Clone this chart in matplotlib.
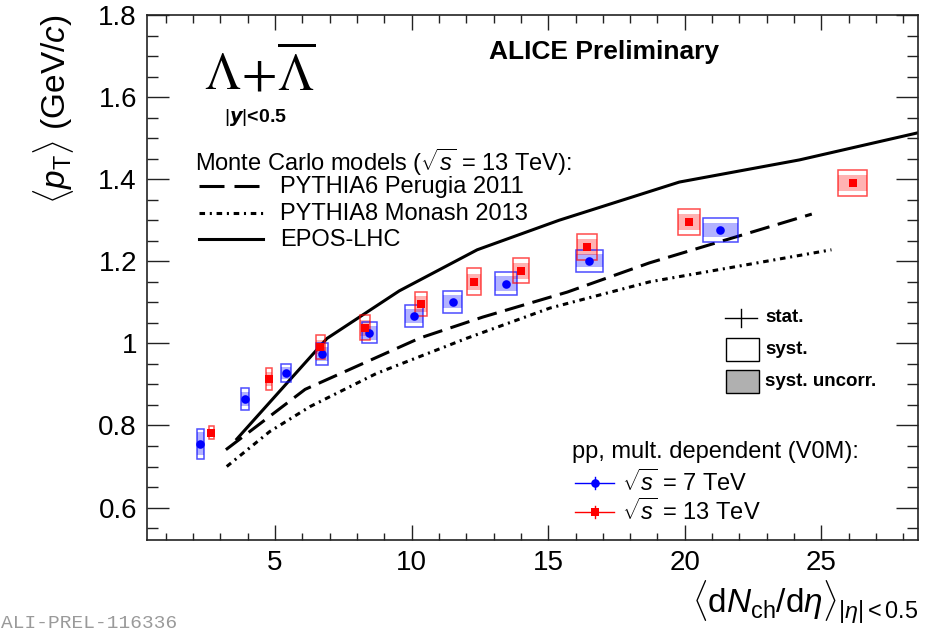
import matplotlib
matplotlib.use("Agg")
import matplotlib.pyplot as plt
from matplotlib.patches import Rectangle
from matplotlib.ticker import MultipleLocator, FixedLocator, FixedFormatter

plt.rcParams["font.family"] = ["Liberation Sans", "DejaVu Sans"]
plt.rcParams["mathtext.fontset"] = "custom"
plt.rcParams["mathtext.rm"] = "Liberation Sans"
plt.rcParams["mathtext.it"] = "Liberation Sans:italic"
plt.rcParams["mathtext.bf"] = "Liberation Sans:bold"
plt.rcParams["lines.scale_dashes"] = False

# ---- pp 7 TeV, multiplicity dependent (V0M) ----
nch_7 = [2.26, 3.90, 5.40, 6.72, 8.45, 10.08, 11.51, 13.46, 16.51, 21.30]
nch_syst_7 = [0.134, 0.146, 0.18, 0.21, 0.27, 0.32, 0.35, 0.40, 0.50, 0.65]
mpt_7 = [0.755, 0.865, 0.928, 0.974, 1.026, 1.067, 1.101, 1.145, 1.201, 1.276]
stat_7 = [0.006, 0.005, 0.005, 0.004, 0.004, 0.004, 0.004, 0.004, 0.004, 0.004]
syst_7 = [0.0365, 0.027, 0.022, 0.026, 0.026, 0.027, 0.026, 0.028, 0.026, 0.029]
uncorr_7 = [0.028, 0.017, 0.014, 0.017, 0.017, 0.017, 0.016, 0.018, 0.016, 0.018]

# ---- pp 13 TeV, multiplicity dependent (V0M) ----
nch_13 = [2.66, 4.78, 6.65, 8.29, 10.34, 12.28, 14.00, 16.42, 20.15, 26.15]
nch_syst_13 = [0.09, 0.10, 0.165, 0.17, 0.21, 0.25, 0.29, 0.35, 0.415, 0.525]
mpt_13 = [0.782, 0.913, 0.991, 1.038, 1.096, 1.150, 1.177, 1.235, 1.296, 1.391]
stat_13 = [0.005, 0.004, 0.004, 0.004, 0.004, 0.004, 0.004, 0.004, 0.004, 0.004]
syst_13 = [0.016, 0.027, 0.029, 0.030, 0.030, 0.0325, 0.031, 0.032, 0.0325, 0.032]
uncorr_13 = [0.010, 0.017, 0.018, 0.019, 0.019, 0.020, 0.019, 0.020, 0.020, 0.020]

# ---- Monte Carlo predictions, 13 TeV ----
epos_x = [3.60, 6.90, 9.55, 12.40, 15.40, 19.80, 24.20, 28.60]
epos_y = [0.767, 1.012, 1.128, 1.228, 1.300, 1.393, 1.447, 1.514]
py6_x = [3.20, 6.10, 10.30, 12.60, 15.70, 18.70, 24.65]
py6_y = [0.741, 0.888, 1.013, 1.064, 1.125, 1.196, 1.315]
py8_x = [3.23, 4.80, 6.28, 8.72, 12.00, 15.06, 18.72, 25.37]
py8_y = [0.700, 0.785, 0.846, 0.927, 1.012, 1.086, 1.150, 1.228]

x_ticks = [5, 10, 15, 20, 25]
y_ticks = [0.6, 0.8, 1.0, 1.2, 1.4, 1.6, 1.8]
y_tick_labels = ["0.6", "0.8", "1", "1.2", "1.4", "1.6", "1.8"]

W, H = 936, 634
fig = plt.figure(figsize=(W / 100, H / 100), dpi=100)
AX_L, AX_R, AX_T, AX_B = 146.7, 918.3, 15.0, 540.0
ax = fig.add_axes([AX_L / W, 1 - AX_B / H, (AX_R - AX_L) / W, (AX_B - AX_T) / H])
ax.set_xlim(0.3, 28.55)
ax.set_ylim(0.521, 1.8)


def fx(px):
    return px / W


def fy(py):
    return 1 - py / H


def ax_xy(px, py):
    return (px - AX_L) / (AX_R - AX_L), (AX_B - py) / (AX_B - AX_T)


# model curves
lw_model = 2.2
ax.plot(epos_x, epos_y, color="black", lw=lw_model, solid_joinstyle="miter", zorder=2)
ax.plot(py6_x, py6_y, color="black", lw=lw_model, dashes=(14.4, 6.2),
        dash_capstyle="butt", zorder=2)
ax.plot(py8_x, py8_y, color="black", lw=lw_model, dashes=(4.0, 3.4, 1.5, 3.4),
        dash_capstyle="butt", zorder=2)


def draw_data(x, xs, y, st, sy, uc, color, marker, ms):
    for xi, xsi, yi, syi, uci in zip(x, xs, y, sy, uc):
        ax.add_patch(Rectangle((xi - xsi, yi - uci), 2 * xsi, 2 * uci,
                               facecolor=color, alpha=0.3, edgecolor="none", zorder=3))
        ax.add_patch(Rectangle((xi - xsi, yi - syi), 2 * xsi, 2 * syi,
                               facecolor="none", edgecolor=color, alpha=0.7,
                               lw=1.1, zorder=4))
    ax.errorbar(x, y, yerr=st, fmt=marker, color=color, ms=ms, mew=0,
                elinewidth=1.0, capsize=0, zorder=5)


draw_data(nch_7, nch_syst_7, mpt_7, stat_7, syst_7, uncorr_7, "#0000ff", "o", 6.2)
draw_data(nch_13, nch_syst_13, mpt_13, stat_13, syst_13, uncorr_13, "#ff0000", "s", 5.4)

# axes styling
ax.xaxis.set_major_locator(FixedLocator(x_ticks))
ax.xaxis.set_minor_locator(MultipleLocator(1))
ax.yaxis.set_major_locator(FixedLocator(y_ticks))
ax.yaxis.set_major_formatter(FixedFormatter(y_tick_labels))
ax.yaxis.set_minor_locator(MultipleLocator(0.05))
ax.tick_params(which="both", direction="in", top=True, right=True, color="#222222")
ax.tick_params(axis="x", which="major", length=10.8, width=1.0, labelsize=20, pad=7)
ax.tick_params(axis="x", which="minor", length=5.4, width=1.0)
ax.tick_params(axis="y", which="major", length=15.8, width=1.0, labelsize=20, pad=7)
ax.tick_params(axis="y", which="minor", length=7.9, width=1.0)
for sp in ax.spines.values():
    sp.set_linewidth(1.2)
    sp.set_color("#222222")

# axis titles
fig.text(fx(54), fy(15), r"$\langle p_{\mathrm{T}}\rangle$ (GeV/$c$)", rotation=90,
         ha="center", va="top", fontsize=24)
fig.text(fx(918), fy(626), r"$\langle \mathrm{d}N_{\mathrm{ch}}/\mathrm{d}\eta\rangle_{|\eta|<0.5}$",
         ha="right", va="bottom", fontsize=24)

# headline texts
fig.text(fx(489), fy(52), "ALICE Preliminary", ha="left", va="center",
         fontsize=19, fontweight="bold")
fig.text(fx(260), fy(73), r"$\Lambda\!+\!\overline{\Lambda}$", ha="center", va="center",
         fontsize=37, math_fontfamily="stix")
fig.text(fx(255), fy(118), r"$|\boldsymbol{y}|$<0.5", ha="center", va="center",
         fontsize=14, fontweight="bold")
fig.text(fx(1), fy(632), "ALI-PREL-116336", ha="left", va="bottom", fontsize=14,
         family="Liberation Mono", color="#9a9a9a")

# Monte Carlo legend
fig.text(fx(195), fy(162), r"Monte Carlo models ($\sqrt{s}$ = 13 TeV):",
         ha="left", va="center", fontsize=17)
mc_rows = [("PYTHIA6 Perugia 2011", 186, dict(dashes=(18.0, 7.2))),
           ("PYTHIA8 Monash 2013", 213, dict(dashes=(4.0, 3.4, 1.5, 3.4))),
           ("EPOS-LHC", 239, dict())]
for label, py, style in mc_rows:
    (x0, y0), (x1, _) = ax_xy(199, py), ax_xy(263, py)
    ax.plot([x0, x1], [y0, y0], transform=ax.transAxes, color="black", lw=lw_model,
            dash_capstyle="butt", clip_on=False, **style)
    fig.text(fx(280), fy(py + 1), label, ha="left", va="center", fontsize=17)

# uncertainty legend
(cx0, cy), (cx1, _) = ax_xy(725, 318), ax_xy(757, 318)
ax.plot([cx0, cx1], [cy, cy], transform=ax.transAxes, color="black", lw=1.0, clip_on=False)
(vx, vy0), (_, vy1) = ax_xy(741, 309), ax_xy(741, 327)
ax.plot([vx, vx], [vy0, vy1], transform=ax.transAxes, color="black", lw=1.0, clip_on=False)
fig.text(fx(765), fy(318), "stat.", ha="left", va="center", fontsize=13.5, fontweight="bold")
for py0, py1, fc, label in [(338, 361, "white", "syst."), (370, 393, "#b0b0b0", "syst. uncorr.")]:
    bx, by = ax_xy(726, py1)
    bw = (759 - 726) / (AX_R - AX_L)
    bh = (py1 - py0) / (AX_B - AX_T)
    ax.add_patch(Rectangle((bx, by), bw, bh, transform=ax.transAxes, facecolor=fc,
                           edgecolor="black", lw=1.0, clip_on=False, zorder=6))
    fig.text(fx(765), fy((py0 + py1) / 2), label, ha="left", va="center",
             fontsize=13.5, fontweight="bold")

# data legend
fig.text(fx(572), fy(452), "pp, mult. dependent (V0M):", ha="left", va="center", fontsize=17)
for label, py, color, marker, ms in [(r"$\sqrt{s}$ = 7 TeV", 483, "#0000ff", "o", 6.2),
                                     (r"$\sqrt{s}$ = 13 TeV", 512, "#ff0000", "s", 5.4)]:
    (lx0, ly), (lx1, _) = ax_xy(575, py), ax_xy(614, py)
    ax.plot([lx0, lx1], [ly, ly], transform=ax.transAxes, color=color, lw=1.0, clip_on=False)
    (mx, my0), (_, my1) = ax_xy(595, py - 6), ax_xy(595, py + 6)
    ax.plot([mx, mx], [my0, my1], transform=ax.transAxes, color=color, lw=1.0, clip_on=False)
    mx, my = ax_xy(595, py)
    ax.plot([mx], [my], transform=ax.transAxes, marker=marker, color=color, ms=ms,
            mew=0, clip_on=False)
    fig.text(fx(622), fy(py), label, ha="left", va="center", fontsize=17)

fig.savefig("out.png", dpi=100)
